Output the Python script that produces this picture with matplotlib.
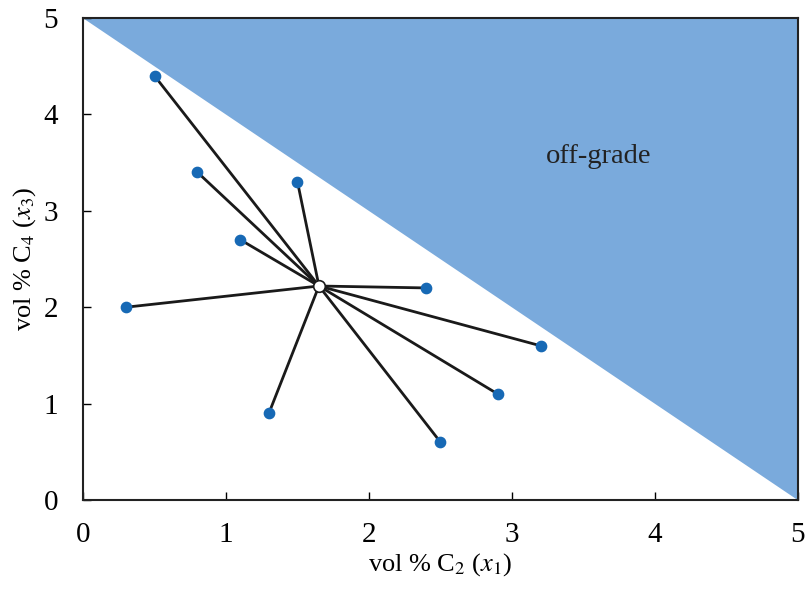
import matplotlib.pyplot as plt
import numpy as np

plt.rcParams['font.family'] = ['Liberation Serif', 'DejaVu Serif']
plt.rcParams['mathtext.fontset'] = 'stix'

# sample compositions (vol % C2, vol % C4)
x1 = [0.5, 0.8, 1.5, 1.1, 0.3, 2.4, 3.2, 2.9, 1.3, 2.5]
x3 = [4.4, 3.4, 3.3, 2.7, 2.0, 2.2, 1.6, 1.1, 0.9, 0.6]
spec_limit = 5.0

xc = np.mean(x1)
yc = np.mean(x3)

fig = plt.figure(figsize=(8.06, 5.9), dpi=100)
ax = fig.add_axes([0.103, 0.1525, 0.887, 0.817])

# off-grade region above x1 + x3 = 5
xs = np.array([0, spec_limit])
ax.fill_between(xs, spec_limit - xs, spec_limit, color='#7aaadc', lw=0, zorder=1)
ax.text(3.24, 3.5, 'off-grade', fontsize=20.5, color='#222222', zorder=3)

for xi, yi in zip(x1, x3):
    ax.plot([xc, xi], [yc, yi], color='#1a1a1a', lw=2, zorder=2)
ax.scatter(x1, x3, s=55, color='#1769b5', zorder=4)
ax.scatter([xc], [yc], s=70, color='white', edgecolors='#1a1a1a', linewidths=1.2, zorder=5)

ax.set_xlim(0, 5)
ax.set_ylim(0, 5)
ax.set_xticks(range(6))
ax.set_yticks(range(6))
ax.tick_params(direction='in', length=6, width=1, labelsize=21,
               top=False, right=False)
ax.tick_params(axis='x', pad=16)
ax.tick_params(axis='y', pad=18)
for s in ax.spines.values():
    s.set_linewidth(1.5)
    s.set_color('#222222')

ax.set_xlabel(r'vol % C$_2$ ($x_1$)', fontsize=19, labelpad=2)
ax.set_ylabel(r'vol % C$_4$ ($x_3$)', fontsize=19, labelpad=4)

fig.savefig('out.png', dpi=100)
